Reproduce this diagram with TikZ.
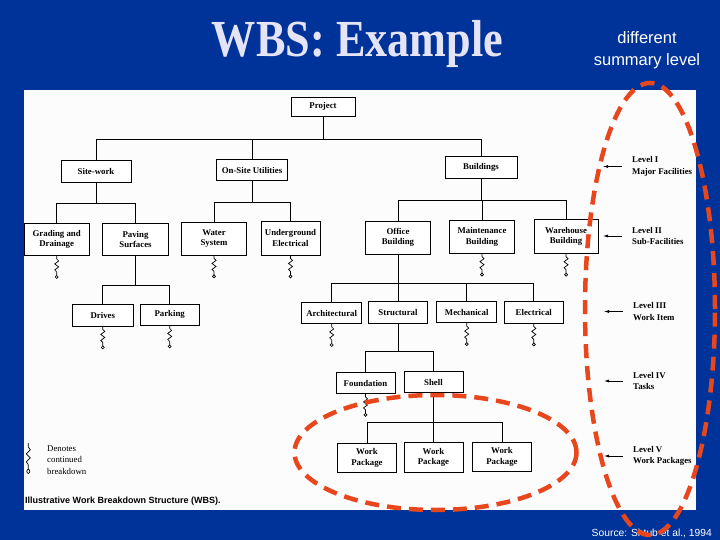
\documentclass[tikz,border=0pt]{standalone}
\usepackage{fontspec}
\setmainfont{Liberation Serif}
\setsansfont{Liberation Sans}
\usetikzlibrary{arrows.meta}
\definecolor{bgblue}{HTML}{003399}
\definecolor{dashred}{HTML}{E8471E}
\definecolor{titlec}{HTML}{E4E4F6}
\definecolor{panel}{HTML}{FCFCFC}
\begin{document}
\begin{tikzpicture}[x=1pt,y=-1pt,
  box/.style={draw=black, line width=0.9pt, fill=white, inner sep=0pt, align=center,
    font=\fontsize{8.8}{10.5}\selectfont\bfseries},
  tree/.style={line width=0.9pt},
  lvl/.style={anchor=west, inner sep=0pt, align=left, font=\fontsize{8.8}{11.5}\selectfont\bfseries},
  lvarrow/.style={line width=0.7pt, -{Latex[length=5pt,width=3pt]}},
  redring/.style={draw=dashred, line width=4.5pt, dash pattern=on 14pt off 8pt},
  cont/.pic={
    \draw[line width=0.7pt] (0,0) -- (0,3) -- (2,5) -- (-2,8) -- (2,11) -- (-2,14) -- (0,16) -- (0,19.5);
    \draw[line width=0.7pt, fill=white] (0,21) circle (1.5pt);
  }
]
\useasboundingbox (0,0) rectangle (720,540);
\fill[bgblue] (0,0) rectangle (720,540);
\fill[panel] (24,90) rectangle (696,510);

% title and note
\node[anchor=base, inner sep=0pt, text=titlec] (title) at (357.5,57)
  {\scalebox{0.85}[1]{\fontsize{52}{60}\selectfont\bfseries WBS: Example}};
\node[align=center, text=white, inner sep=0pt, font=\sffamily\fontsize{16.5}{22}\selectfont] (note) at (647,50)
  {different\\summary level};

% level 0
\node[box, minimum width=64pt, minimum height=19pt] (project) at (323,106.5) {Project};
% level 1
\node[box, minimum width=70pt, minimum height=22pt] (site) at (96,171) {Site-work};
\node[box, minimum width=71pt, minimum height=21pt] (util) at (252,170) {On-Site Utilities};
\node[box, minimum width=72pt, minimum height=22pt] (build) at (481,167.5) {Buildings};
% level 2
\node[box, minimum width=65pt, minimum height=32pt] (grading) at (56.7,239.5) {Grading and\\Drainage};
\node[box, minimum width=66pt, minimum height=32pt] (paving) at (135.5,239.3) {Paving\\Surfaces};
\node[box, minimum width=65pt, minimum height=33pt] (water) at (214,238.5) {Water\\System};
\node[box, minimum width=59pt, minimum height=34pt] (under) at (290.5,238) {Underground\\Electrical};
\node[box, minimum width=65pt, minimum height=33pt] (office) at (398,237.6) {Office\\Building};
\node[box, minimum width=65pt, minimum height=33pt] (maint) at (482,236.7) {Maintenance\\Building};
\node[box, minimum width=64pt, minimum height=34pt] (ware) at (566,236.3) {Warehouse\\Building};
% level 3
\node[box, minimum width=61pt, minimum height=22pt] (drives) at (102.8,315) {Drives};
\node[box, minimum width=59pt, minimum height=21pt] (parking) at (169.7,314.5) {Parking};
\node[box, minimum width=60pt, minimum height=21pt] (arch) at (331.7,313) {Architectural};
\node[box, minimum width=59pt, minimum height=22pt] (struct) at (398,312.5) {Structural};
\node[box, minimum width=60pt, minimum height=21pt] (mech) at (466.7,312.2) {Mechanical};
\node[box, minimum width=59pt, minimum height=22pt] (elec) at (533.8,312) {Electrical};
% level 4
\node[box, minimum width=59pt, minimum height=21pt] (found) at (365.5,383) {Foundation};
\node[box, minimum width=59pt, minimum height=21pt] (shell) at (433.5,382.2) {Shell};
% level 5
\node[box, minimum width=59pt, minimum height=29pt] (wp1) at (367,458) {Work\\Package};
\node[box, minimum width=59pt, minimum height=30pt] (wp2) at (433.5,457.3) {Work\\Package};
\node[box, minimum width=59pt, minimum height=29pt] (wp3) at (502,457) {Work\\Package};

% buses
\coordinate (b0) at (0,139);
\coordinate (b1) at (0,203);
\coordinate (b2) at (0,202);
\coordinate (b3) at (0,200);
\coordinate (b4) at (0,285);
\coordinate (b5) at (0,283);
\coordinate (b6) at (0,351);
\coordinate (b7) at (0,422);

\draw[tree] (project.south) -- (project.south |- b0);
\draw[tree] (site.north) |- (build.north |- b0) -- (build.north);
\draw[tree] (util.north) -- (util.north |- b0);

\draw[tree] (site.south) -- (site.south |- b1);
\draw[tree] (grading.north) |- (paving.north |- b1) -- (paving.north);

\draw[tree] (util.south) -- (util.south |- b2);
\draw[tree] (water.north) |- (under.north |- b2) -- (under.north);

\draw[tree] (build.south) -- (build.south |- b3);
\draw[tree] (office.north) |- (ware.north |- b3) -- (ware.north);
\draw[tree] (maint.north) -- (maint.north |- b3);

\draw[tree] (paving.south) -- (paving.south |- b4);
\draw[tree] (drives.north) |- (parking.north |- b4) -- (parking.north);

\draw[tree] (office.south) -- (struct.north);
\draw[tree] (arch.north) |- (elec.north |- b5) -- (elec.north);
\draw[tree] (mech.north) -- (mech.north |- b5);

\draw[tree] (struct.south) -- (struct.south |- b6);
\draw[tree] (found.north) |- (shell.north |- b6) -- (shell.north);

\draw[tree] (shell.south) -- (wp2.north);
\draw[tree] (wp1.north) |- (wp3.north |- b7) -- (wp3.north);

% continued breakdown marks
\foreach \n in {grading,water,under,maint,ware,drives,parking,arch,mech,elec,found}
  \pic at (\n.south) {cont};

% levels
\node[lvl] (lv1) at (632,166.5) {Level I\\Major Facilities};
\node[lvl] (lv2) at (632,236) {Level II\\Sub-Facilities};
\node[lvl] (lv3) at (633,311.5) {Level III\\Work Item};
\node[lvl] (lv4) at (633,381) {Level IV\\Tasks};
\node[lvl] (lv5) at (633,456) {Level V\\Work Packages};
\foreach \n in {lv1,lv2,lv3,lv4,lv5}
  \draw[lvarrow] ([xshift=-10pt]\n.west) -- ++(-19,0);

% legend
\pic[yscale=1.35] at (28.3,443) {cont};
\node[anchor=west, inner sep=0pt, align=left, font=\fontsize{8.8}{11.3}\selectfont] (legend) at (47,460)
  {Denotes\\continued\\breakdown};

% caption and source
\node[anchor=west, inner sep=0pt, font=\sffamily\bfseries\fontsize{9}{10}\selectfont] (cap) at (25,501)
  {Illustrative Work Breakdown Structure (WBS).};
\node[anchor=east, inner sep=0pt, text=white, font=\sffamily\fontsize{10.3}{11}\selectfont] (src) at (712,533)
  {Source: Shtub et al., 1994};

% red dashed rings
\draw[redring] (650,309) ellipse [x radius=65pt, y radius=226pt];
\draw[redring] (435.5,452.5) ellipse [x radius=141pt, y radius=57.5pt];
\end{tikzpicture}
\end{document}
